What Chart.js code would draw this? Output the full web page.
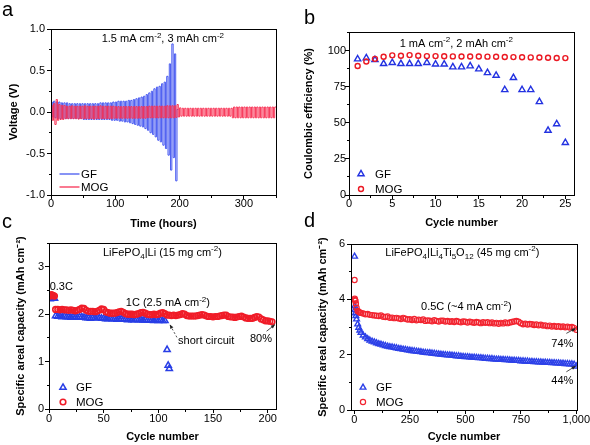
<!DOCTYPE html>
<html>
<head>
<meta charset="utf-8">
<title>GF vs MOG</title>
<script src="https://cdn.jsdelivr.net/npm/chart.js@4.4.1/dist/chart.umd.min.js"></script>
<style>
  html, body { margin: 0; background: #fff; }
  #fig { position: relative; width: 590px; height: 445px; overflow: hidden; background: #fff; }
  .box { position: absolute; }
  .tag { position: absolute; font: 20px/20px "Liberation Sans", Arial, sans-serif; color: #000; }
</style>
</head>
<body>
<div id="fig">
  <div class="box" style="left:0;top:0;width:295px;height:232px"><canvas id="chartA"></canvas></div>
  <div class="box" style="left:295px;top:0;width:295px;height:232px"><canvas id="chartB"></canvas></div>
  <div class="box" style="left:0;top:232px;width:295px;height:213px"><canvas id="chartC"></canvas></div>
  <div class="box" style="left:295px;top:232px;width:295px;height:213px"><canvas id="chartD"></canvas></div>
  <div class="tag" style="left:2px;top:-1px">a</div>
  <div class="tag" style="left:304px;top:7px">b</div>
  <div class="tag" style="left:2px;top:211px">c</div>
  <div class="tag" style="left:304px;top:210px">d</div>
</div>
<script>
const FONT = '"Liberation Sans", Arial, Helvetica, sans-serif';
Chart.defaults.font.family = FONT;
Chart.defaults.font.size = 11;
Chart.defaults.color = '#000';

// (a) voltage vs time, one value per 2 h half cycle (held until the next one)
const hoursGF = [0,2,4,6,8,10,12,14,16,18,20,22,24,26,28,30,32,34,36,38,40,42,44,46,48,50,52,54,56,58,60,62,64,66,68,70,72,74,76,78,80,82,84,86,88,90,92,94,96,98,100,102,104,106,108,110,112,114,116,118,120,122,124,126,128,130,132,134,136,138,140,142,144,146,148,150,152,154,156,158,160,162,164,166,168,170,172,174,176,178,180,182,184,186,188,190,192,194,196,198];
const voltGF = [0.05,
  0.12,-0.06, 0.13,-0.07, 0.12,-0.08, 0.12,-0.08, 0.11,-0.08, 0.11,-0.08, 0.11,-0.08, 0.10,-0.08, 0.10,-0.08, 0.10,-0.08,
  0.10,-0.08, 0.10,-0.08, 0.10,-0.09, 0.10,-0.09, 0.10,-0.09, 0.10,-0.09, 0.10,-0.09, 0.10,-0.09, 0.10,-0.09, 0.11,-0.09,
  0.11,-0.09, 0.11,-0.09, 0.11,-0.09, 0.11,-0.10, 0.12,-0.10, 0.12,-0.10, 0.13,-0.11, 0.13,-0.11, 0.13,-0.12, 0.13,-0.12,
  0.14,-0.13, 0.14,-0.14, 0.15,-0.15, 0.16,-0.16, 0.17,-0.17, 0.18,-0.18, 0.19,-0.20, 0.21,-0.22, 0.23,-0.25, 0.25,-0.27,
  0.28,-0.30, 0.30,-0.34, 0.31,-0.36, 0.34,-0.40, 0.36,-0.44, 0.43,-0.52, 0.58,-0.70, 0.82,-0.55, 0.70,-0.83,
  0.03];
const hoursMOG = [0,2,4,6,8,10,12,14,16,18,20,22,24,26,28,30,32,34,36,38,40,42,44,46,48,50,52,54,56,58,60,62,64,66,68,70,72,74,76,78,80,82,84,86,88,90,92,94,96,98,100,102,104,106,108,110,112,114,116,118,120,122,124,126,128,130,132,134,136,138,140,142,144,146,148,150,152,154,156,158,160,162,164,166,168,170,172,174,176,178,180,182,184,186,188,190,192,194,196,198,200,202,204,206,208,210,212,214,216,218,220,222,224,226,228,230,232,234,236,238,240,242,244,246,248,250,252,254,256,258,260,262,264,266,268,270,272,274,276,278,280,282,284,286,288,290,292,294,296,298,300,302,304,306,308,310,312,314,316,318,320,322,324,326,328,330,332,334,336,338,340,342,344,346,348,350];
const voltMOG = [
  -0.74,0.08, -0.10,0.10, -0.15,0.15, -0.10,0.09, -0.09,0.08, -0.09,0.08, -0.08,0.07,
  -0.08,0.07, -0.08,0.075, -0.08,0.07, -0.08,0.07, -0.085,0.07, -0.08,0.07, -0.08,0.075, -0.08,0.07, -0.08,0.07,
  -0.08,0.07, -0.085,0.07, -0.08,0.07, -0.08,0.075, -0.08,0.07, -0.08,0.07, -0.08,0.07, -0.08,0.07, -0.08,0.07,
  -0.075,0.065, -0.075,0.065, -0.075,0.065, -0.075,0.065, -0.075,0.065, -0.075,0.065, -0.075,0.065,
  -0.075,0.065, -0.075,0.065, -0.075,0.065, -0.075,0.065, -0.075,0.065, -0.075,0.065,
  -0.07,0.07, -0.07,0.07, -0.07,0.07, -0.07,0.07, -0.07,0.07, -0.07,0.07, -0.07,0.07,
  -0.07,0.075, -0.07,0.075, -0.07,0.075, -0.07,0.075, -0.065,0.09, -0.06,0.05,
  -0.05,0.045, -0.05,0.045, -0.05,0.045, -0.05,0.045, -0.05,0.045, -0.05,0.045, -0.05,0.045, -0.05,0.045, -0.05,0.045, -0.05,0.045,
  -0.05,0.045, -0.05,0.045, -0.05,0.045, -0.05,0.045, -0.05,0.045, -0.05,0.045, -0.05,0.045, -0.05,0.045, -0.05,0.045, -0.05,0.045,
  -0.07,0.06, -0.07,0.06, -0.07,0.06, -0.07,0.06, -0.07,0.06, -0.07,0.06, -0.07,0.06, -0.07,0.06, -0.07,0.06,
  -0.07,0.06, -0.07,0.06, -0.07,0.06, -0.07,0.06, -0.07,0.06, -0.07,0.06, -0.07,0.06, -0.07,0.06];
const timeTicks = [0, 100, 200, 300];
const voltTicks = [-1, -0.5, 0, 0.5, 1];

// (b) coulombic efficiency
const ceCycles = [1,2,3,4,5,6,7,8,9,10,11,12,13,14,15,16,17,18,19,20,21,22,23,24,25];
const ceGF = [94.2,95.0,93.7,91.0,91.7,91.0,91.0,91.0,91.7,90.7,90.7,88.7,88.7,89.4,87.3,84.7,82.9,72.9,81.3,72.9,72.9,64.6,44.7,49.3,36.3];
const ceMOG = [89.4,92.6,94.4,95.8,96.8,96.5,97.0,96.5,96.3,96.3,96.2,96.1,96.0,96.0,96.0,95.9,95.8,95.7,95.6,95.5,95.4,95.3,95.2,95.0,94.9];
const ceCycleTicks = [0, 5, 10, 15, 20, 25];
const ceTicks = [0, 25, 50, 75, 100];

// (c) LiFePO4|Li capacity
const lfpCyclesMOG = [1,2,3,4,5,6,8,10,12,14,16,18,20,22,24,26,28,30,32,34,36,38,40,42,44,46,48,50,52,54,56,58,60,62,64,66,68,70,72,74,76,78,80,82,84,86,88,90,92,94,96,98,100,102,104,106,108,110,112,114,116,118,120,122,124,126,128,130,132,134,136,138,140,142,144,146,148,150,152,154,156,158,160,162,164,166,168,170,172,174,176,178,180,182,184,186,188,190,192,194,196,198,200,202,204];
const lfpMOG = [2.38,2.41,2.40,2.39,2.38,
  2.10,2.10,2.09,2.10,2.09,2.09,2.08,2.09,2.08,2.07,
  2.08,2.10,2.13,2.12,2.08,2.06,2.06,2.06,2.05,2.06,
  2.08,2.11,2.10,2.05,2.03,2.02,2.02,2.02,2.03,2.05,
  2.06,2.04,2.01,2.00,2.00,2.00,1.99,2.00,2.01,2.03,
  2.04,2.02,2.00,1.99,1.99,2.00,1.99,2.00,2.02,2.03,
  2.01,1.98,1.98,1.97,1.98,1.97,1.98,1.99,2.01,2.00,
  1.97,1.96,1.96,1.96,1.96,1.97,1.98,1.99,1.98,1.96,
  1.95,1.95,1.94,1.95,1.95,1.96,1.97,1.98,1.98,1.95,
  1.94,1.94,1.93,1.94,1.95,1.96,1.94,1.92,1.91,1.91,
  1.91,1.93,1.95,1.94,1.90,1.88,1.86,1.86,1.85,1.84];
const lfpCyclesGF = [1,2,3,4,5,6,8,10,12,14,16,18,20,22,24,26,28,30,32,34,36,38,40,42,44,46,48,50,52,54,56,58,60,62,64,66,68,70,72,74,76,78,80,82,84,86,88,90,92,94,96,98,100,102,104,106,108,109,110];
const lfpGF = [2.32,2.35,2.35,2.34,2.33,
  1.96,1.95,1.95,1.94,1.95,1.94,1.94,1.93,1.94,1.93,
  1.93,1.94,1.94,1.93,1.92,1.92,1.91,1.92,1.92,1.93,
  1.92,1.91,1.91,1.90,1.90,1.91,1.90,1.90,1.89,1.90,
  1.90,1.89,1.89,1.88,1.89,1.88,1.88,1.89,1.88,1.88,
  1.87,1.88,1.87,1.87,1.87,1.86,1.87,1.86,1.87,1.86,1.86,
  1.25,0.92,0.85];
const lfpCycleTicks = [0, 50, 100, 150, 200];
const lfpCapTicks = [0, 1, 2, 3];

// (d) LiFePO4|Li4Ti5O12 capacity
const lfpLtoCycles = [1,2,3,5,7,10,15,20,25,30,40,50,60,70,80,90,100,110,120,130,140,150,160,170,180,190,200,210,220,230,240,250,260,270,280,290,300,310,320,330,340,350,360,370,380,390,400,410,420,430,440,450,460,470,480,490,500,510,520,530,540,550,560,570,580,590,600,610,620,630,640,650,660,670,680,690,700,710,720,730,740,750,760,770,780,790,800,810,820,830,840,850,860,870,880,890,900,910,920,930,940,950,960,970,980,990,1000];
const lfpLtoGF = [5.55,3.75,3.62,3.50,3.40,3.28,3.10,2.98,2.88,2.80,2.70,2.63,2.57,2.52,2.48,2.45,2.42,
  2.39,2.37,2.34,2.32,2.30,2.28,2.27,2.25,2.24,2.22,
  2.21,2.19,2.18,2.16,2.15,2.14,2.13,2.12,2.11,2.10,
  2.08,2.07,2.06,2.06,2.05,2.04,2.03,2.02,2.01,2.00,
  1.99,1.98,1.98,1.97,1.96,1.95,1.95,1.94,1.93,1.92,
  1.92,1.91,1.90,1.90,1.89,1.88,1.88,1.87,1.86,1.86,
  1.85,1.85,1.84,1.83,1.83,1.82,1.82,1.81,1.81,1.80,
  1.79,1.79,1.78,1.78,1.77,1.77,1.76,1.76,1.75,1.75,
  1.74,1.74,1.73,1.73,1.72,1.72,1.71,1.71,1.70,1.70,
  1.69,1.69,1.68,1.68,1.67,1.67,1.66,1.66,1.65,1.58];
const lfpLtoMOG = [4.70,4.02,3.98,3.95,3.85,3.70,3.58,3.55,3.52,3.51,3.49,3.46,3.47,3.44,3.43,3.42,3.41,
  3.40,3.42,3.37,3.36,3.38,3.33,3.34,3.32,3.33,3.31,
  3.29,3.33,3.30,3.27,3.28,3.25,3.29,3.24,3.26,3.25,
  3.27,3.22,3.24,3.23,3.21,3.25,3.22,3.20,3.23,3.23,
  3.20,3.22,3.19,3.21,3.18,3.22,3.19,3.17,3.20,3.19,
  3.16,3.19,3.17,3.15,3.18,3.16,3.14,3.17,3.15,3.17,
  3.14,3.16,3.13,3.15,3.12,3.15,3.13,3.16,3.14,3.16,
  3.18,3.20,3.22,3.19,3.14,3.10,3.12,3.09,3.11,3.10,
  3.07,3.09,3.06,3.08,3.05,3.06,3.03,3.05,3.02,3.04,
  3.01,3.03,3.00,3.02,2.99,3.01,2.98,3.00,2.97,2.90];
const ltoCycleTicks = [0, 250, 500, 750, 1000];
const ltoCapTicks = [0, 2, 4, 6];

const pts = (xs, ys) => xs.map((v, i) => ({x: v, y: ys[i]}));

function richText(ctx, segs, x, y, size, align) {
  const small = Math.round(size * 0.7);
  const fontOf = k => (k ? small : size) + 'px ' + FONT;
  let w = 0;
  segs.forEach(([t, k]) => { ctx.font = fontOf(k); w += ctx.measureText(t).width; });
  let cx = align === 'center' ? x - w / 2 : x;
  segs.forEach(([t, k]) => {
    ctx.font = fontOf(k);
    const dy = k === 'sup' ? -size * 0.4 : (k === 'sub' ? size * 0.28 : 0);
    ctx.fillText(t, cx, y + dy);
    cx += ctx.measureText(t).width;
  });
}

function marker(ctx, style, x, y, r, bw, color) {
  ctx.save();
  ctx.strokeStyle = color;
  ctx.lineWidth = bw;
  ctx.beginPath();
  if (style === 'triangle') {
    ctx.moveTo(x, y - r);
    ctx.lineTo(x + r * 0.866, y + r * 0.5);
    ctx.lineTo(x - r * 0.866, y + r * 0.5);
    ctx.closePath();
  } else {
    ctx.arc(x, y, r, 0, Math.PI * 2);
  }
  ctx.stroke();
  ctx.restore();
}

function arrow(ctx, x1, y1, x2, y2, dashed) {
  ctx.save();
  ctx.strokeStyle = '#222';
  ctx.fillStyle = '#222';
  ctx.lineWidth = 0.8;
  if (dashed) ctx.setLineDash([2, 2]);
  ctx.beginPath(); ctx.moveTo(x1, y1); ctx.lineTo(x2, y2); ctx.stroke();
  ctx.setLineDash([]);
  const a = Math.atan2(y2 - y1, x2 - x1), L = 4.5;
  ctx.beginPath();
  ctx.moveTo(x2, y2);
  ctx.lineTo(x2 - L * Math.cos(a - 0.4), y2 - L * Math.sin(a - 0.4));
  ctx.lineTo(x2 - L * Math.cos(a + 0.4), y2 - L * Math.sin(a + 0.4));
  ctx.closePath(); ctx.fill();
  ctx.restore();
}

// frame, minor ticks, inset legend and notes
const decor = {
  id: 'decor',
  afterDraw(chart, args, o) {
    const {ctx, chartArea: a, scales: {x, y}} = chart;
    const al = p => Math.round(p - 0.5) + 0.5;
    ctx.save();
    ctx.strokeStyle = '#000';
    ctx.lineWidth = 1;
    ctx.strokeRect(al(a.left), al(a.top), al(a.right) - al(a.left), al(a.bottom) - al(a.top));
    ctx.beginPath();
    if (o.minorX) {
      for (let i = Math.ceil(x.min / o.minorX); i * o.minorX <= x.max; i++) {
        const p = al(x.getPixelForValue(i * o.minorX));
        ctx.moveTo(p, al(a.bottom)); ctx.lineTo(p, al(a.bottom) + 2.5);
      }
    }
    if (o.minorY) {
      for (let i = Math.ceil(y.min / o.minorY); i * o.minorY <= y.max + 1e-9; i++) {
        const p = al(y.getPixelForValue(i * o.minorY));
        ctx.moveTo(al(a.left), p); ctx.lineTo(al(a.left) - 2.5, p);
      }
    }
    ctx.stroke();

    if (o.legend) {
      const lg = o.legend;
      chart.data.datasets.forEach((ds, i) => {
        const yy = a.bottom + lg.rows[i];
        if (lg.line) {
          ctx.save();
          ctx.strokeStyle = ds.borderColor; ctx.lineWidth = 1.3;
          ctx.beginPath(); ctx.moveTo(a.left + lg.x1, yy); ctx.lineTo(a.left + lg.x2, yy); ctx.stroke();
          ctx.restore();
        } else {
          marker(ctx, ds.pointStyle, a.left + lg.mx, yy, ds.pointRadius, ds.pointBorderWidth, ds.borderColor);
        }
        ctx.fillStyle = '#000';
        ctx.font = '11.5px ' + FONT;
        ctx.textBaseline = 'middle';
        ctx.textAlign = 'left';
        ctx.fillText(ds.label, a.left + lg.tx, yy + 0.5);
      });
    }

    ctx.textBaseline = 'alphabetic';
    ctx.textAlign = 'left';
    ctx.fillStyle = '#000';
    (o.notes || []).forEach(n => {
      richText(ctx, n.segs, x.getPixelForValue(n.x), y.getPixelForValue(n.y), 11, n.align);
    });
    (o.arrows || []).forEach(r => {
      arrow(ctx, x.getPixelForValue(r.x1), y.getPixelForValue(r.y1),
            x.getPixelForValue(r.x2), y.getPixelForValue(r.y2), r.dashed);
    });
    ctx.restore();
  }
};
Chart.register(decor);

function axes(s) {
  const fixTicks = list => sc => { sc.ticks = list.map(v => ({value: v})); };
  return {
    x: {
      type: 'linear', min: s.xmin, max: s.xmax,
      afterBuildTicks: fixTicks(s.xticks),
      afterFit: sc => { sc.height = s.xh; },
      ticks: {autoSkip: false, maxRotation: 0, padding: s.xpad, color: '#000', font: {size: 11}},
      grid: {drawOnChartArea: false, tickLength: 4, color: '#000', tickColor: '#000'},
      border: {color: '#000', width: 1},
      title: {display: true, text: s.xtitle, color: '#000', font: {size: 11, weight: 'bold'}, padding: {top: 0, bottom: s.xtp}}
    },
    y: {
      type: 'linear', min: s.ymin, max: s.ymax,
      afterBuildTicks: fixTicks(s.yticks),
      afterFit: sc => { sc.width = s.yw; },
      ticks: {autoSkip: false, padding: s.ypad, color: '#000', font: {size: 11},
              callback: s.yfmt || (v => v)},
      grid: {drawOnChartArea: false, tickLength: 4, color: '#000', tickColor: '#000'},
      border: {color: '#000', width: 1},
      title: {display: true, text: s.ytitle, color: '#000', font: {size: 11, weight: 'bold'}, padding: {top: s.ytp, bottom: 0}}
    }
  };
}

function base(pad, scales, decorOpts) {
  return {
    responsive: true, maintainAspectRatio: false, animation: false, devicePixelRatio: 1,
    events: [],
    layout: {padding: pad},
    scales: scales,
    plugins: {legend: {display: false}, tooltip: {enabled: false}, decor: decorOpts}
  };
}

// panel a
new Chart(document.getElementById('chartA'), {
  type: 'scatter',
  data: {datasets: [
    {label: 'GF', data: pts(hoursGF, voltGF), showLine: true, stepped: 'after', pointRadius: 0, borderWidth: 1, borderColor: 'rgb(70,88,240)', order: 1},
    {label: 'MOG', data: pts(hoursMOG, voltMOG), showLine: true, stepped: 'after', pointRadius: 0, borderWidth: 1, borderColor: 'rgb(248,50,85)', order: 0}
  ]},
  options: base({left: 0, top: 29, right: 19, bottom: 0},
    axes({xmin: 0, xmax: 350, xticks: timeTicks, ymin: -1, ymax: 1, yticks: voltTicks, xh: 37, yw: 51, xpad: -2, ypad: 2,
          xtitle: 'Time (hours)', ytitle: 'Voltage (V)', xtp: 1, ytp: 7.4, yfmt: v => v.toFixed(1)}),
    {minorX: 50, minorY: 0.25,
     legend: {line: true, x1: 8.5, x2: 28.5, tx: 30, rows: [-21, -8]},
     notes: [{x: 174, y: 0.843, align: 'center', segs: [['1.5 mA cm'], ['-2', 'sup'], [', 3 mAh cm'], ['-2', 'sup']]}]})
});

// panel b
new Chart(document.getElementById('chartB'), {
  type: 'scatter',
  data: {datasets: [
    {label: 'GF', data: pts(ceCycles, ceGF), pointStyle: 'triangle', pointRadius: 3.6, pointBorderWidth: 1.4, borderWidth: 1.4,
     borderColor: 'rgb(35,50,225)', pointBorderColor: 'rgb(35,50,225)', pointBackgroundColor: 'rgba(0,0,0,0)', order: 1},
    {label: 'MOG', data: pts(ceCycles, ceMOG), pointStyle: 'circle', pointRadius: 2.5, pointBorderWidth: 1.4, borderWidth: 1.4,
     borderColor: 'rgb(235,25,35)', pointBorderColor: 'rgb(235,25,35)', pointBackgroundColor: 'rgba(0,0,0,0)', order: 0}
  ]},
  options: base({left: 0, top: 32, right: 16, bottom: 0},
    axes({xmin: 0, xmax: 26, xticks: ceCycleTicks, ymin: 0, ymax: 113, yticks: ceTicks, xh: 37, yw: 54, xpad: -2, ypad: -1,
          xtitle: 'Cycle number', ytitle: 'Coulombic efficiency (%)', xtp: 2.9, ytp: 7.4}),
    {minorX: 2.5, minorY: 12.5,
     legend: {mx: 12, tx: 26, rows: [-21, -6]},
     notes: [{x: 12.4, y: 102.8, align: 'center', segs: [['1 mA cm'], ['-2', 'sup'], [', 2 mAh cm'], ['-2', 'sup']]}]})
});

// panel c
new Chart(document.getElementById('chartC'), {
  type: 'scatter',
  data: {datasets: [
    {label: 'GF', data: pts(lfpCyclesGF, lfpGF), pointStyle: 'triangle', pointRadius: 3.6, pointBorderWidth: 1.5, borderWidth: 1.5,
     borderColor: 'rgb(40,62,230)', pointBorderColor: 'rgb(40,62,230)', pointBackgroundColor: 'rgba(0,0,0,0)', order: 1},
    {label: 'MOG', data: pts(lfpCyclesMOG, lfpMOG), pointStyle: 'circle', pointRadius: 2.8, pointBorderWidth: 1.6, borderWidth: 1.6,
     borderColor: 'rgb(240,28,40)', pointBorderColor: 'rgb(240,28,40)', pointBackgroundColor: 'rgba(0,0,0,0)', order: 0}
  ]},
  options: base({left: 0, top: 11, right: 19, bottom: 0},
    axes({xmin: 0, xmax: 207.6, xticks: lfpCycleTicks, ymin: 0, ymax: 3.5, yticks: lfpCapTicks, xh: 36, yw: 49, xpad: -1, ypad: 1,
          xtitle: 'Cycle number', ytitle: 'Specific areal capacity (mAh cm\u207B\u00B2)', xtp: 1.7, ytp: 14.4}),
    {minorX: 25, minorY: 0.5,
     legend: {mx: 14, tx: 27, rows: [-21.5, -7]},
     notes: [
       {x: 103.7, y: 3.23, align: 'center', segs: [['LiFePO'], ['4', 'sub'], ['|Li (15 mg cm'], ['-2', 'sup'], [')']]},
       {x: 0.6, y: 2.51, segs: [['0.3C']]},
       {x: 108.7, y: 2.17, align: 'center', segs: [['1C (2.5 mA cm'], ['-2', 'sup'], [')']]},
       {x: 118, y: 1.38, segs: [['short circuit']]},
       {x: 183.8, y: 1.42, segs: [['80%']]}
     ],
     arrows: [
       {x1: 117, y1: 1.51, x2: 110.5, y2: 1.78, dashed: true},
       {x1: 199, y1: 1.64, x2: 206.7, y2: 1.78}
     ]})
});

// panel d
new Chart(document.getElementById('chartD'), {
  type: 'scatter',
  data: {datasets: [
    {label: 'GF', data: pts(lfpLtoCycles, lfpLtoGF), pointStyle: 'triangle', pointRadius: 3.3, pointBorderWidth: 1.4, borderWidth: 1.4,
     borderColor: 'rgb(45,65,232)', pointBorderColor: 'rgb(45,65,232)', pointBackgroundColor: 'rgba(0,0,0,0)', order: 1},
    {label: 'MOG', data: pts(lfpLtoCycles, lfpLtoMOG), pointStyle: 'circle', pointRadius: 2.6, pointBorderWidth: 1.2, borderWidth: 1.2,
     borderColor: 'rgb(242,36,48)', pointBorderColor: 'rgb(242,36,48)', pointBackgroundColor: 'rgba(0,0,0,0)', order: 0}
  ]},
  options: base({left: 0, top: 12, right: 13, bottom: 0},
    axes({xmin: -15, xmax: 1003, xticks: ltoCycleTicks, ymin: 0, ymax: 6, yticks: ltoCapTicks, xh: 35, yw: 56, xpad: -1, ypad: 2,
          xtitle: 'Cycle number', ytitle: 'Specific areal capacity (mAh cm\u207B\u00B2)', xtp: 1.4, ytp: 21.4}),
    {minorX: 125, minorY: 1,
     legend: {mx: 12, tx: 25, rows: [-22.5, -8]},
     notes: [
       {x: 486.5, y: 5.57, align: 'center', segs: [['LiFePO'], ['4', 'sub'], ['|Li'], ['4', 'sub'], ['Ti'], ['5', 'sub'], ['O'], ['12', 'sub'], [' (45 mg cm'], ['-2', 'sup'], [')']]},
       {x: 504.5, y: 3.61, align: 'center', segs: [['0.5C (~4 mA cm'], ['-2', 'sup'], [')']]},
       {x: 937, y: 2.29, align: 'center', segs: [['74%']]},
       {x: 937, y: 0.94, align: 'center', segs: [['44%']]}
     ],
     arrows: [
       {x1: 955, y1: 2.77, x2: 997, y2: 2.95},
       {x1: 955, y1: 1.38, x2: 997, y2: 1.59}
     ]})
});
</script>
</body>
</html>
